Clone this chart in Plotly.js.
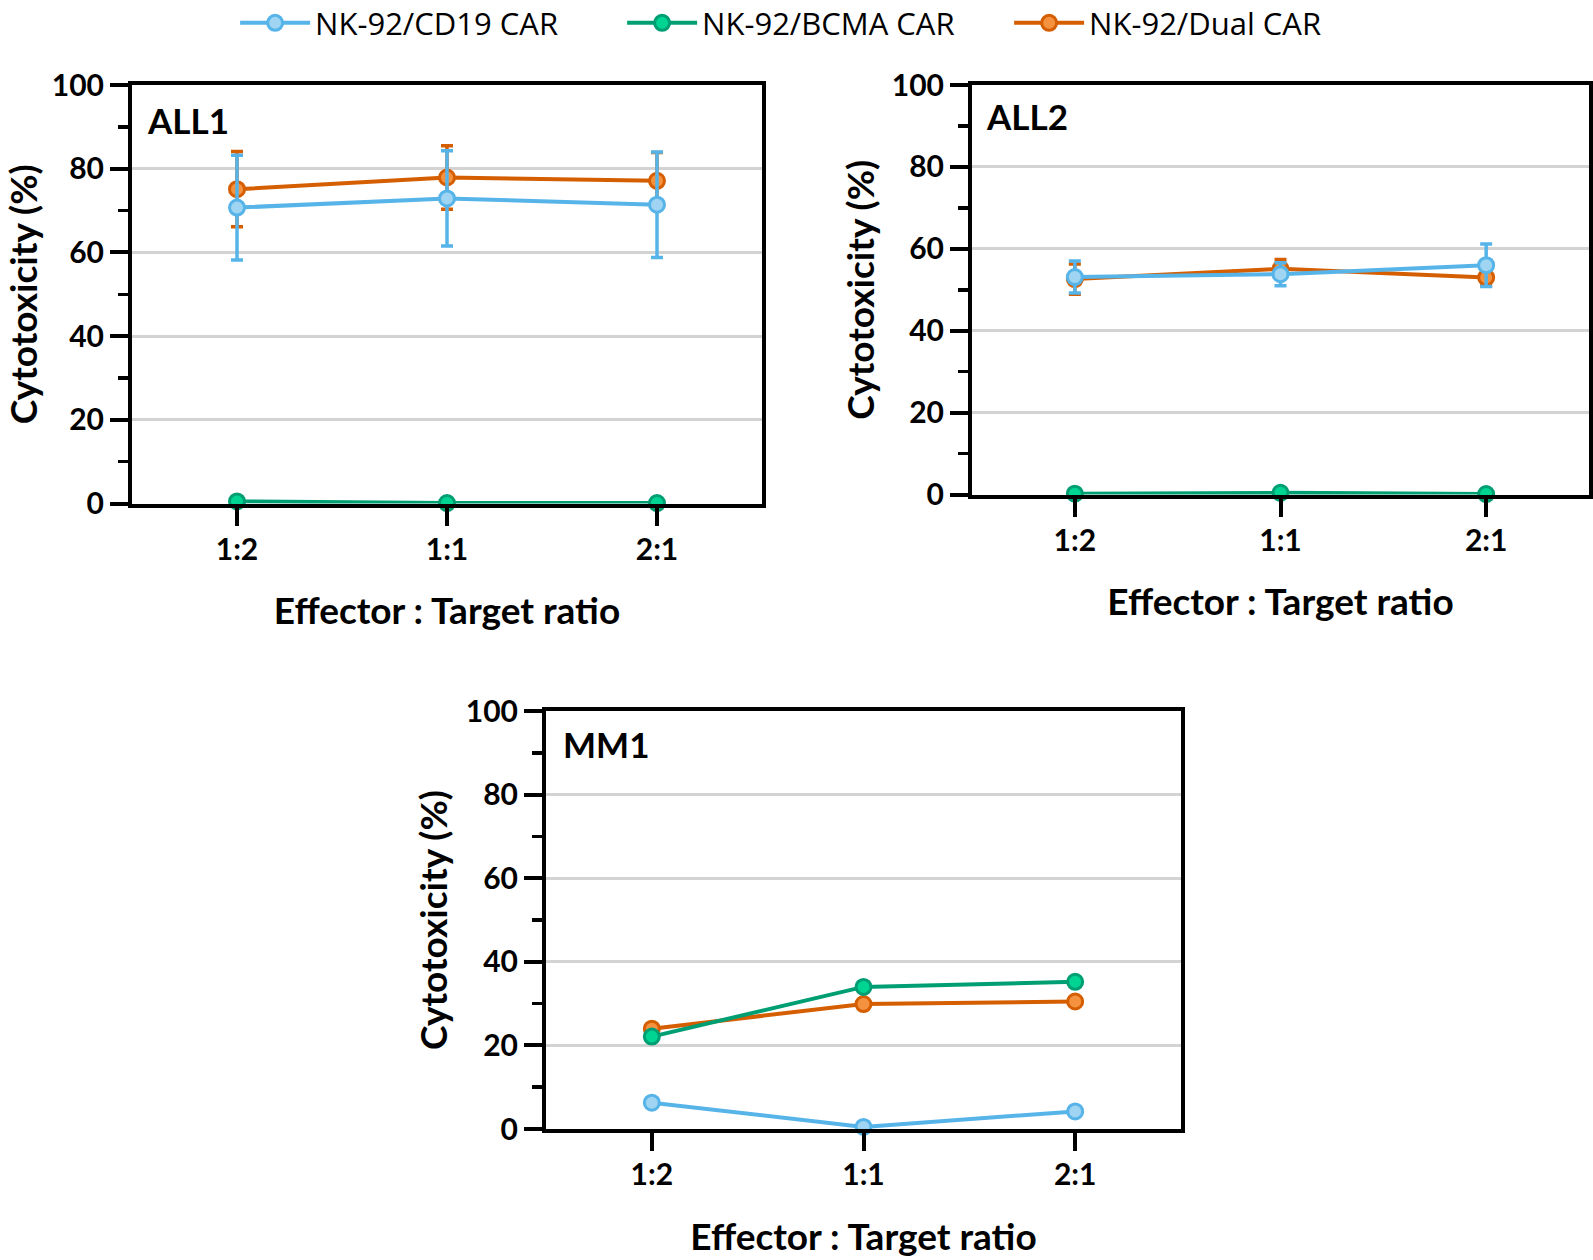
<!DOCTYPE html>
<html>
<head>
<meta charset="utf-8">
<script src="https://cdn.plot.ly/plotly-3.0.1.min.js"></script>
<style>html,body{margin:0;padding:0;background:#fff;}#chart{width:1593px;height:1260px;}</style>
</head>
<body>
<div id="chart"></div>
<script>
// ---- Data ----
const categories = ['1:2', '1:1', '2:1'];
const seriesNames = ['NK-92/CD19 CAR', 'NK-92/BCMA CAR', 'NK-92/Dual CAR'];
const panelNames = ['ALL1', 'ALL2', 'MM1'];

const all1_cd19 = [70.7, 72.9, 71.4];
const all1_cd19_err = [12.5, 11.4, 12.6];
const all1_bcma = [0.5, 0.1, 0.1];
const all1_dual = [75.1, 77.9, 77.1];
const all1_dual_err = [9.0, 7.6, 6.8];

const all2_cd19 = [53.1, 53.8, 56.0];
const all2_cd19_err = [3.9, 2.8, 5.2];
const all2_bcma = [0.2, 0.4, 0.1];
const all2_dual = [52.6, 55.1, 53.0];
const all2_dual_err = [3.7, 2.3, 2.0];

const mm1_cd19 = [6.3, 0.5, 4.2];
const mm1_bcma = [22.1, 34.0, 35.2];
const mm1_dual = [24.0, 29.9, 30.5];

const yTickVals = [0, 20, 40, 60, 80, 100];

// ---- Styles ----
const lineColors = ['#56B4E9', '#009E73', '#D55E00'];
const fillColors = ['#9FD4F2', '#00D492', '#F5923F'];

const W = 1593, H = 1260;
function dx(a, b) { return [a / W, b / W]; }
function dy(top, bottom) { return [1 - bottom / H, 1 - top / H]; }

function mkTrace(idx, yv, err, ax, show) {
  const t = {
    type: 'scatter', mode: 'lines+markers',
    x: categories, y: yv,
    name: seriesNames[idx], legendgroup: seriesNames[idx], showlegend: show,
    legendrank: idx + 1,
    xaxis: 'x' + ax, yaxis: 'y' + ax,
    line: { color: lineColors[idx], width: 4 },
    marker: { symbol: 'circle', size: 15, color: fillColors[idx], line: { color: lineColors[idx], width: 3 } },
    cliponaxis: false
  };
  if (err) {
    t.error_y = { type: 'data', array: err, visible: true, color: lineColors[idx], thickness: 3.5, width: 6 };
  }
  return t;
}

const data = [
  mkTrace(2, all1_dual, all1_dual_err, '', true),
  mkTrace(1, all1_bcma, null, '', true),
  mkTrace(0, all1_cd19, all1_cd19_err, '', true),
  mkTrace(2, all2_dual, all2_dual_err, '2', false),
  mkTrace(1, all2_bcma, null, '2', false),
  mkTrace(0, all2_cd19, all2_cd19_err, '2', false),
  mkTrace(2, mm1_dual, null, '3', false),
  mkTrace(1, mm1_bcma, null, '3', false),
  mkTrace(0, mm1_cd19, null, '3', false)
];

const tickFont = { family: 'Lato, sans-serif', size: 30, weight: 'bold', color: '#000' };
const titleFont = { family: 'Lato, sans-serif', size: 37, weight: 'bold', color: '#000' };
const panelFont = { family: 'Lato, sans-serif', size: 35, weight: 'bold', color: '#000' };

function xAxis(dom, anchor) {
  return {
    domain: dom, anchor: anchor, type: 'category', range: [-0.5, 2.5],
    showline: true, linecolor: '#000', linewidth: 4, mirror: true,
    ticks: 'outside', ticklen: 18, tickwidth: 4, tickcolor: '#000',
    showgrid: false, zeroline: false, tickfont: tickFont, ticklabelstandoff: -2,
    title: { text: 'Effector : Target ratio', font: titleFont, standoff: 35 },
    fixedrange: true
  };
}
function yAxis(dom, anchor, standoff) {
  return {
    domain: dom, anchor: anchor, range: [0, 100],
    tickmode: 'array', tickvals: yTickVals, ticktext: yTickVals.map(String),
    showline: true, linecolor: '#000', linewidth: 4, mirror: true,
    ticks: 'outside', ticklen: 18, tickwidth: 4, tickcolor: '#000',
    minor: { dtick: 10, tick0: 0, ticks: 'outside', ticklen: 10, tickwidth: 3.5, tickcolor: '#000', showgrid: false },
    showgrid: true, gridcolor: '#d3d3d3', gridwidth: 3, zeroline: false,
    tickfont: tickFont, ticklabelstandoff: 0,
    title: { text: 'Cytotoxicity (%)', font: titleFont, standoff: standoff },
    fixedrange: true
  };
}

const layout = {
  width: W, height: H,
  margin: { l: 0, r: 0, t: 0, b: 0, autoexpand: false },
  paper_bgcolor: '#fff', plot_bgcolor: '#fff',
  showlegend: true,
  legend: {
    orientation: 'h', x: 0.512, xanchor: 'center', y: 1.003, yanchor: 'top',
    font: { family: 'Open Sans, sans-serif', size: 31, color: '#000' },
    itemwidth: 70, tracegroupgap: 0, entrywidth: 302, entrywidthmode: 'pixels'
  },
  xaxis: xAxis(dx(132, 762), 'y'),
  yaxis: yAxis(dy(85, 503.5), 'x', 16),
  xaxis2: xAxis(dx(972, 1589), 'y2'),
  yaxis2: yAxis(dy(85, 494.5), 'x2', 7),
  xaxis3: xAxis(dx(546, 1181), 'y3'),
  yaxis3: yAxis(dy(711, 1129), 'x3', 8),
  annotations: [
    { text: panelNames[0], xref: 'x domain', yref: 'y domain', x: 0.02, y: 0.917, xanchor: 'left', yanchor: 'middle', showarrow: false, font: panelFont },
    { text: panelNames[1], xref: 'x2 domain', yref: 'y2 domain', x: 0.02, y: 0.924, xanchor: 'left', yanchor: 'middle', showarrow: false, font: panelFont },
    { text: panelNames[2], xref: 'x3 domain', yref: 'y3 domain', x: 0.024, y: 0.921, xanchor: 'left', yanchor: 'middle', showarrow: false, font: panelFont }
  ]
};

Plotly.newPlot('chart', data, layout, { displayModeBar: false, staticPlot: true });
</script>
</body>
</html>
